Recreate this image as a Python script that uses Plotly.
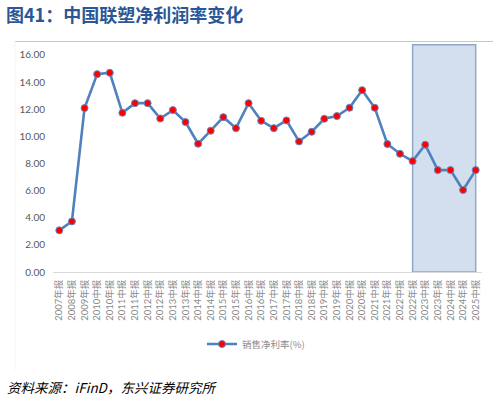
import plotly.graph_objects as go

categories = ["2007年报", "2008年报", "2009年报", "2010中报", "2010年报", "2011中报", "2011年报",
              "2012中报", "2012年报", "2013中报", "2013年报", "2014中报", "2014年报", "2015中报",
              "2015年报", "2016中报", "2016年报", "2017中报", "2017年报", "2018中报", "2018年报",
              "2019中报", "2019年报", "2020中报", "2020年报", "2021中报", "2021年报", "2022中报",
              "2022年报", "2023中报", "2023年报", "2024中报", "2024年报", "2025中报"]
net_margin = [3.07, 3.73, 12.08, 14.58, 14.68, 11.73, 12.44, 12.44, 11.31, 11.93, 11.05, 9.45,
              10.41, 11.41, 10.60, 12.44, 11.14, 10.60, 11.17, 9.62, 10.33, 11.29, 11.49, 12.10,
              13.40, 12.10, 9.43, 8.71, 8.17, 9.38, 7.51, 7.51, 6.04, 7.51]
series_name = "销售净利率(%)"
y_ticks = [0, 2, 4, 6, 8, 10, 12, 14, 16]
highlight_start = "2022年报"
highlight_end = "2025中报"
title_text = "图41：中国联塑净利润率变化"
source_text = "资料来源：iFinD，东兴证券研究所"

W, H = 499, 399
L, R, T, B = 53, 482, 44, 272


def px(xp):
    return (xp - L) / (R - L)


def py(yp):
    return (B - yp) / (B - T)


fig = go.Figure()
fig.add_trace(go.Scatter(
    x=categories, y=net_margin, mode="lines+markers", name=series_name,
    line=dict(color="#4F81BD", width=2.6),
    marker=dict(color="#FF0000", size=7, line=dict(color="#5B8BC9", width=1)),
))

i0 = categories.index(highlight_start)
i1 = categories.index(highlight_end)
fig.add_shape(type="rect", xref="x", yref="y", x0=i0, x1=i1, y0=0, y1=16.74,
              fillcolor="#D3DEEE", line=dict(color="#93A7C7", width=1.5), layer="below")
# separator line under title
fig.add_shape(type="line", xref="paper", yref="paper", x0=px(15), x1=px(493),
              y0=py(41.5), y1=py(41.5), line=dict(color="#C8C8C8", width=1.2))
fig.add_shape(type="line", xref="paper", yref="paper", x0=px(15), x1=px(15),
              y0=py(41.5), y1=py(370), line=dict(color="#F5F5F5", width=1))

fig.add_annotation(text=title_text, xref="paper", yref="paper", x=px(4), y=py(14),
                   xanchor="left", yanchor="middle", showarrow=False,
                   font=dict(family="Noto Sans CJK SC", size=18, color="#2B5797", weight="bold"))
fig.add_annotation(text="<i>" + source_text + "</i>", xref="paper", yref="paper", x=px(5), y=py(387),
                   xanchor="left", yanchor="middle", showarrow=False,
                   font=dict(family="Noto Sans CJK SC", size=13.5, color="#000000"))

fig.update_layout(
    width=W, height=H,
    margin=dict(l=L, r=W - R, t=T, b=H - B, pad=0),
    plot_bgcolor="white", paper_bgcolor="white",
    font=dict(family="Lato, Noto Sans CJK SC", color="#595959"),
    showlegend=True,
    legend=dict(orientation="h", x=px(256), y=py(344), xanchor="center", yanchor="middle",
                font=dict(size=9.5, color="#8C8C8C", family="Noto Sans CJK SC"),
                itemwidth=30, bgcolor="rgba(0,0,0,0)"),
    xaxis=dict(type="category", categoryorder="array", categoryarray=categories,
               range=[-0.5, len(categories) - 0.5], showline=True, linecolor="#D9D9D9",
               linewidth=1, showgrid=False, zeroline=False, ticks="", tickangle=-90,
               tickfont=dict(size=9.5, color="#8C8C8C", family="Lato, Noto Sans CJK SC"),
               ticklabelstandoff=3),
    yaxis=dict(range=[0, 16.8], tickvals=y_ticks, tickformat=".2f", showgrid=False,
               zeroline=False, showline=False, ticks="",
               tickfont=dict(size=10, color="#595959", family="Lato, Noto Sans CJK SC"),
               ticklabelstandoff=7),
)

fig.write_html("out.html", config={"displayModeBar": False},
               post_script="document.body.style.margin='0';")
